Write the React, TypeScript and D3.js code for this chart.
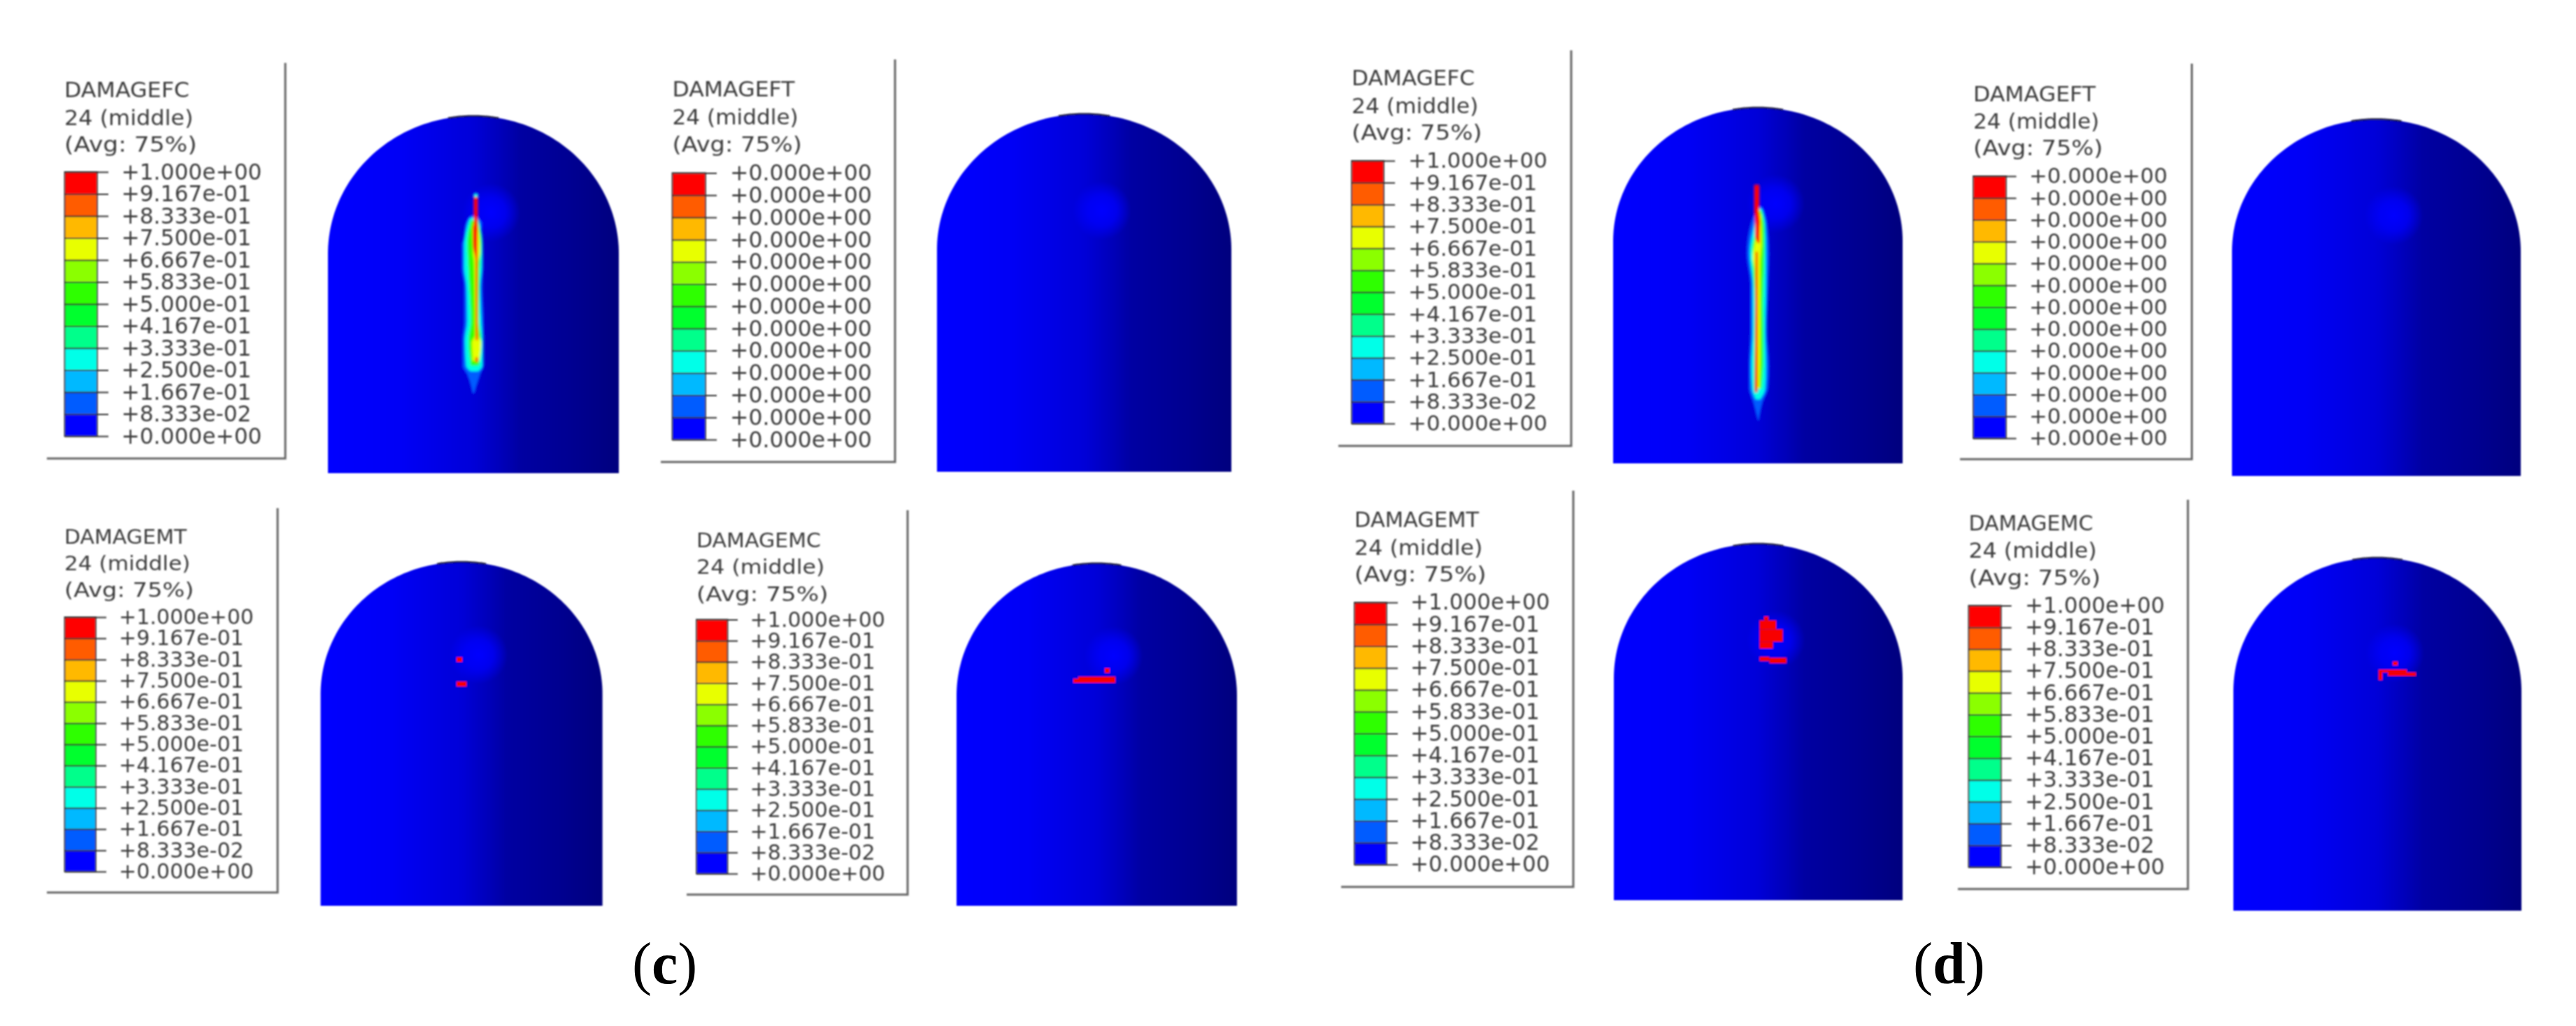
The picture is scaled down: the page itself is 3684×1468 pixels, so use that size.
import React, { useEffect, useRef } from 'react';
import * as d3 from 'd3';

const WIDTH = 3684;
const HEIGHT = 1468;

// legend
const levels = [1, 0.9167, 0.8333, 0.75, 0.6667, 0.5833, 0.5, 0.4167, 0.3333, 0.25, 0.1667, 0.0833, 0];
const damageLabels = [
  '+1.000e+00', '+9.167e-01', '+8.333e-01', '+7.500e-01', '+6.667e-01', '+5.833e-01', '+5.000e-01',
  '+4.167e-01', '+3.333e-01', '+2.500e-01', '+1.667e-01', '+8.333e-02', '+0.000e+00',
];
const zeroLabels = levels.map(() => '+0.000e+00');
const bandColors = [
  '#ff0000', '#ff5c00', '#ffb900', '#e8ff00', '#8bff00', '#2eff00',
  '#00ff2e', '#00ff8b', '#00ffe8', '#00b9ff', '#005cff', '#0000ff',
];
const subtitle = '24 (middle)';
const averaging = '(Avg: 75%)';

// contour layers, outermost first: band index, then [v, uLeft, uRight] rows in shell units
const contourC: [number, [number, number, number][]][] = [
  [10, [[72.1, -1.8, 2.2], [69.9, -5.3, 5.9], [65.3, -6.9, 3.8], [64, -7.9, 6.2], [57.5, -7.9, 6.5], [52.3, -6.3, 6.2],
    [42.5, -6.3, 7], [37.3, -7.4, 7], [30.1, -7.4, 7], [27.5, -4.2, 4.6], [22.3, -0.5, 0.6]]],
  [8, [[71.5, -2.6, 3], [69.2, -4.2, 4.6], [64, -6.3, 6.2], [57.5, -6.3, 5.9], [52.3, -4.7, 4.6], [42.5, -4.2, 5.4],
    [37.3, -5.8, 6.2], [30.1, -5, 6.2], [28.5, -1.8, 3]]],
  [5, [[70.8, -1.8, 3], [64.6, -4.2, 5.4], [56.8, -3.4, 4.3], [42.5, -1.8, 3.8], [37.3, -3.4, 5.4], [30.1, -1.8, 3.8]]],
  [3, [[69.9, -0.2, 3], [62, -0.2, 4.6], [58.8, 0.6, 3], [38.6, 1.1, 3.3], [36.6, -1, 5.4], [31.4, -0.5, 3.8]]],
  [0, [[77.4, 0.3, 3], [69.9, 0.3, 3], [68.6, -0.5, 3], [63.3, -0.2, 2.7], [60.1, 1.4, 2.7], [37.3, 1.7, 3]]],
  [0, [[32.4, 1.4, 3], [31.1, 1.4, 3]]],
  [8, [[78.3, 0.3, 3], [77.3, 0.3, 3]]],
];
const contourD: [number, [number, number, number][]][] = [
  [10, [[72.2, 0, 3.1], [67.8, -4.6, 6.2], [59, -7.7, 7.7], [50.2, -5.2, 7.1], [37.1, -5.2, 6.2], [27.4, -6.2, 7.7],
    [21.3, -6.2, 7.1], [16.9, -3.1, 3.1], [12, 0, 0.6]]],
  [8, [[71.5, 0, 2.8], [67, -2.5, 5], [59, -5.5, 5.5], [50, -3.5, 5.5], [37, -3.5, 5], [27.4, -4.5, 5.5], [21, -4, 5], [18, -1.5, 1.5]]],
  [5, [[71, 0, 2.5], [66, -1, 4.5], [60, -4, 4.5], [55, -3.5, 4.2], [45, -2, 3.5], [30, -2.5, 3.8], [21, -2.5, 2.5]]],
  [3, [[70, 0, 2], [62, -2, 2.5], [58, -3.5, 1.8], [54, -2, 1.5], [30, -1.5, 1.5], [21, -1.5, 1]]],
  [0, [[78.3, -2.5, 0.9], [71, -2.5, 0.9], [68, -2, 1.6], [64, -2, 1.2], [62, -0.2, 1.2]]],
  [0, [[59.5, -1.5, -0.2], [40, -1.8, -0.2], [20, -2.2, -0.3]]],
];

// failed elements: [uLeft, uRight, vTop, vBottom] in shell units
const cellsMTc = [[-3.5, 0.5, 72.3, 70.9], [-3.5, 3.5, 65.2, 63.8]];
const cellsMCc = [[5.7, 9.2, 69.4, 68], [-13.2, 13.2, 66.9, 65.1], [-16.7, -13.2, 66.3, 65.1]];
const cellsMTd = [[4, 7.1, 79.6, 78.5], [0.9, 12.4, 78.5, 76], [0.9, 17, 76, 72.5], [0.9, 10.2, 72.5, 70.6],
  [0.9, 7.7, 68.3, 67.1], [7.7, 19.5, 68, 66.5]];
const cellsMCd = [[10.7, 14.1, 70.6, 69.5], [0.8, 20.4, 68.3, 67.5], [7.3, 26.7, 67.5, 66.5], [0.8, 3.4, 67.5, 65.3]];

const shadeStops = [
  [0, '#0000ff'], [0.25, '#0000f6'], [0.5, '#0000d8'], [0.6, '#0000b8'], [0.66, '#0000a2'], [0.85, '#000090'], [1, '#00007e'],
];

const glowAt = { u: 12, v: 73 };

interface Panel {
  name: string;
  labels: string[];
  frame: [number, number, number, number]; // left, right, top, bottom
  textX: number;
  baselines: [number, number, number];
  titleW: number;
  bar: [number, number, number, number]; // left, right, top, bottom
  tickEnd: number;
  labelX: number;
  labelW: number;
  dome: [number, number, number, number]; // left, right, top, bottom
  shoulder: number;
  contour?: typeof contourC;
  cells?: number[][];
}

const panels: Panel[] = [
  { name: 'DAMAGEFC', labels: damageLabels, frame: [67, 408, 90, 656], textX: 92, baselines: [139, 179, 217], titleW: 179,
    bar: [92.5, 139, 246, 624], tickEnd: 155, labelX: 173.5, labelW: 201, dome: [469, 885, 166, 677], shoulder: 363, contour: contourC },
  { name: 'DAMAGEFT', labels: zeroLabels, frame: [945, 1280, 85, 661], textX: 961.5, baselines: [138, 178, 217], titleW: 175,
    bar: [961.5, 1009, 247.5, 629], tickEnd: 1025, labelX: 1044, labelW: 203, dome: [1340, 1761, 163, 675], shoulder: 357 },
  { name: 'DAMAGEMT', labels: damageLabels, frame: [67, 397, 727, 1277], textX: 92, baselines: [777.5, 816, 854], titleW: 175,
    bar: [92.5, 137, 883, 1247], tickEnd: 152, labelX: 170, labelW: 193, dome: [458.5, 861.6, 804, 1296], shoulder: 993, cells: cellsMTc },
  { name: 'DAMAGEMC', labels: damageLabels, frame: [982, 1298, 730, 1280], textX: 996, baselines: [783, 821, 860], titleW: 178,
    bar: [996, 1040.5, 886.5, 1250], tickEnd: 1055, labelX: 1072.5, labelW: 193.5, dome: [1368, 1769, 806, 1296], shoulder: 995, cells: cellsMCc },
  { name: 'DAMAGEFC', labels: damageLabels, frame: [1914, 2247, 72, 638], textX: 1933, baselines: [122, 162, 200], titleW: 176,
    bar: [1933, 1979, 230, 606], tickEnd: 1995, labelX: 2014, labelW: 199, dome: [2307, 2721, 154, 663], shoulder: 345, contour: contourD },
  { name: 'DAMAGEFT', labels: zeroLabels, frame: [2803, 3134.6, 91, 657], textX: 2822, baselines: [145, 184, 222], titleW: 175,
    bar: [2822, 2869, 252, 627], tickEnd: 2883.5, labelX: 2902, labelW: 198, dome: [3192, 3605, 170.5, 681], shoulder: 360 },
  { name: 'DAMAGEMT', labels: damageLabels, frame: [1918, 2250, 702, 1269], textX: 1937, baselines: [754, 794, 832], titleW: 178,
    bar: [1937, 1983, 862, 1237], tickEnd: 1999, labelX: 2017, labelW: 199.6, dome: [2308, 2721, 778, 1288], shoulder: 970, cells: cellsMTd },
  { name: 'DAMAGEMC', labels: damageLabels, frame: [2800, 3129, 715, 1272], textX: 2815.4, baselines: [759, 798, 837], titleW: 178,
    bar: [2815.4, 2861.7, 866.5, 1240.6], tickEnd: 2876.6, labelX: 2896, labelW: 200, dome: [3194, 3606, 798, 1303], shoulder: 989, cells: cellsMCd },
];

const captions = [
  { letter: 'c', x: 904, y: 1407 },
  { letter: 'd', x: 2736, y: 1407 },
];

const App: React.FC = () => {
  const ref = useRef<SVGSVGElement>(null);

  useEffect(() => {
    const svg = d3.select(ref.current);
    svg.selectAll('*').remove();

    const defs = svg.append('defs');
    const soft = defs.append('filter').attr('id', 'soft').attr('filterUnits', 'userSpaceOnUse')
      .attr('x', 0).attr('y', 0).attr('width', WIDTH).attr('height', HEIGHT);
    soft.append('feGaussianBlur').attr('stdDeviation', 0.9);
    const softer = defs.append('filter').attr('id', 'softer').attr('filterUnits', 'userSpaceOnUse')
      .attr('x', 0).attr('y', 0).attr('width', WIDTH).attr('height', HEIGHT);
    softer.append('feGaussianBlur').attr('stdDeviation', 1.4);

    const shade = defs.append('linearGradient').attr('id', 'shade');
    shadeStops.forEach(([o, c]) => shade.append('stop').attr('offset', o as number).attr('stop-color', c as string));
    const glow = defs.append('radialGradient').attr('id', 'glow');
    glow.append('stop').attr('offset', 0).attr('stop-color', '#0000ff').attr('stop-opacity', 1);
    glow.append('stop').attr('offset', 0.5).attr('stop-color', '#0000ff').attr('stop-opacity', 0.75);
    glow.append('stop').attr('offset', 1).attr('stop-color', '#0000ff').attr('stop-opacity', 0);

    const root = svg.append('g').attr('filter', 'url(#soft)');

    panels.forEach(p => {
      const g = root.append('g');

      // legend frame
      const [fl, fr, ft, fb] = p.frame;
      g.append('path')
        .attr('d', `M${fr},${ft}V${fb}H${fl}`)
        .attr('fill', 'none').attr('stroke', '#666').attr('stroke-width', 3);

      // legend text
      const fontSize = p.labelW / 6.425;
      [[p.name, p.titleW], [subtitle, p.titleW * 1.03], [averaging, p.titleW * 1.06]].forEach(([t, w], i) => {
        g.append('text')
          .attr('x', p.textX).attr('y', p.baselines[i])
          .attr('textLength', w as number).attr('lengthAdjust', 'spacingAndGlyphs')
          .attr('font-family', '"DejaVu Sans"').attr('font-size', fontSize * 0.96)
          .attr('fill', '#3c3c3c').text(t as string);
      });

      // colour bar
      const [bl, br, bt, bb] = p.bar;
      const yLevel = d3.scaleLinear().domain([1, 0]).range([bt, bb]);
      g.append('g').selectAll('rect').data(bandColors).join('rect')
        .attr('x', bl).attr('width', br - bl)
        .attr('y', (_, i) => yLevel(levels[i]))
        .attr('height', (_, i) => yLevel(levels[i + 1]) - yLevel(levels[i]))
        .attr('fill', d => d);
      g.append('rect').attr('x', bl).attr('y', bt).attr('width', br - bl).attr('height', bb - bt)
        .attr('fill', 'none').attr('stroke', '#444').attr('stroke-width', 2);

      const axis = d3.axisRight(yLevel)
        .tickValues(levels)
        .tickSize(p.tickEnd - bl)
        .tickPadding(p.labelX - p.tickEnd)
        .tickFormat((_, i) => p.labels[i]);
      const axisG = g.append('g').attr('transform', `translate(${bl},0)`).call(axis);
      axisG.select('.domain').remove();
      axisG.selectAll('line').attr('stroke', '#333').attr('stroke-width', 2);
      axisG.selectAll('text')
        .attr('font-family', '"DejaVu Sans"').attr('font-size', fontSize)
        .attr('fill', '#3c3c3c');

      // shell model: u -100..100 across, v 0..100 up
      const [dl, dr, dt, db] = p.dome;
      const x = d3.scaleLinear().domain([-100, 100]).range([dl, dr]);
      const y = d3.scaleLinear().domain([0, 100]).range([db, dt]);
      const vShoulder = y.invert(p.shoulder);
      const arcPt = (a: number): [number, number] =>
        [100 * Math.cos(a), vShoulder + (100 - vShoulder) * Math.sin(a)];
      const toPx = d3.line<[number, number]>().x(d => x(d[0])).y(d => y(d[1]));

      const outline: [number, number][] = [[-100, 0], ...d3.range(0, 121).map(i => arcPt(Math.PI - (i / 120) * Math.PI)), [100, 0]];
      g.append('path').attr('d', toPx(outline) + 'Z').attr('fill', 'url(#shade)');

      g.append('ellipse')
        .attr('cx', x(glowAt.u)).attr('cy', y(glowAt.v))
        .attr('rx', 42).attr('ry', 42)
        .attr('fill', 'url(#glow)');

      // dark sliver on the crown
      const crown: [number, number][] = d3.range(0, 21).map(i => arcPt(Math.PI / 2 + 0.175 - (i / 20) * 0.35));
      g.append('path').attr('d', toPx(crown)).attr('fill', 'none').attr('stroke', '#1c1c40').attr('stroke-width', 2.5);

      if (p.contour) {
        const band = d3.area<[number, number, number]>()
          .y(d => y(d[0])).x0(d => x(d[1])).x1(d => x(d[2]))
          .curve(d3.curveMonotoneY);
        const cg = g.append('g').attr('filter', 'url(#softer)');
        p.contour.forEach(([c, rows]) => {
          const sorted = [...rows].sort((a, b) => b[0] - a[0]);
          cg.append('path').attr('d', band(sorted)).attr('fill', bandColors[c]);
        });
      }

      if (p.cells) {
        g.append('g').selectAll('rect').data(p.cells).join('rect')
          .attr('x', d => x(d[0])).attr('width', d => x(d[1]) - x(d[0]))
          .attr('y', d => y(d[2])).attr('height', d => y(d[3]) - y(d[2]))
          .attr('fill', '#f80000');
      }
    });

    // sub-figure captions
    captions.forEach(c => {
      const t = svg.append('text')
        .attr('x', c.x).attr('y', c.y)
        .attr('font-family', '"Liberation Serif"').attr('font-size', 84).attr('fill', '#000');
      t.append('tspan').text('(');
      t.append('tspan').attr('font-weight', 'bold').text(c.letter);
      t.append('tspan').text(')');
    });
  }, []);

  return (
    <svg
      ref={ref}
      width={WIDTH}
      height={HEIGHT}
      style={{ position: 'absolute', left: 0, top: 0, background: '#fff' }}
    />
  );
};

export default App;
